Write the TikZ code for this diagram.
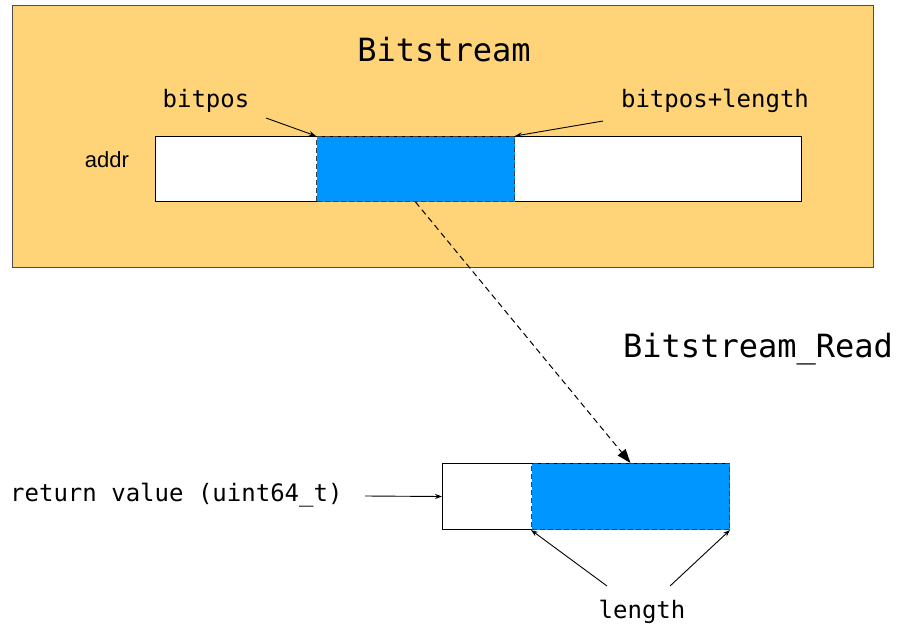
\documentclass[tikz,border=0pt]{standalone}
\usepackage{fontspec}
\setmainfont{Liberation Sans}
\setmonofont{DejaVu Sans Mono}
\usetikzlibrary{arrows.meta,positioning}
\definecolor{cantaloupe}{HTML}{FFD479}
\definecolor{aqua}{HTML}{0096FF}

\begin{document}
\begin{tikzpicture}[x=1pt,y=-1pt,
  ptr/.style={-{Stealth[length=7pt,width=5pt]},line width=0.9pt},
  cell/.style={draw,line width=1pt,fill=white,anchor=north west,inner sep=0pt},
  bits/.style={draw=black!75,dash pattern=on 5pt off 3pt,fill=aqua,line width=1pt,anchor=north west,inner sep=0pt},
  lbl/.style={font=\ttfamily\fontsize{24}{24}\selectfont,inner sep=0pt},
  big/.style={font=\ttfamily\fontsize{32}{32}\selectfont,inner sep=0pt}]
\useasboundingbox (0,0) rectangle (900,629);
% the bitstream
\draw[fill=cantaloupe,draw=black!70,line width=1pt] (12,5) rectangle (873,267);
\node[big] (title) at (444,50) {Bitstream};
\node[cell,minimum width=646pt,minimum height=65pt] (bar) at (155,136) {};
\node[bits,minimum width=198pt,minimum height=65pt] (sel) at (316,136) {};
\node[font=\fontsize{22}{22}\selectfont,inner sep=0pt] (addr) at (107,160) {addr};
\node[lbl] (pos) at (206,101) {bitpos};
\node[lbl] (end) at (715,101) {bitpos+length};
\coordinate (pos tail) at (266,118);
\coordinate (end tail) at (603,121);
\draw[ptr] (pos tail) -- (sel.north west);
\draw[ptr] (end tail) -- (sel.north east);
% the value read
\node[big,anchor=west] (fn) at (623,349) {Bitstream\_Read};
\node[cell,minimum width=287pt,minimum height=66pt] (ret) at (442,463) {};
\node[bits,minimum width=198pt,minimum height=66pt] (val) at (531,463) {};
\draw[dash pattern=on 6pt off 4pt,line width=1pt,-{Triangle[length=14pt,width=10pt]}] (sel.south) -- (val.north);
\node[lbl,anchor=west] (rv) at (10,495) {return value (uint64\_t)};
\coordinate (rv tail) at (365,496);
\draw[ptr] (rv tail) -- (ret.west);
\node[lbl] (len) at (642,612) {length};
\coordinate (len left) at (607,586);
\coordinate (len right) at (670,586);
\draw[ptr] (len left) -- (val.south west);
\draw[ptr] (len right) -- (val.south east);
\end{tikzpicture}
\end{document}
